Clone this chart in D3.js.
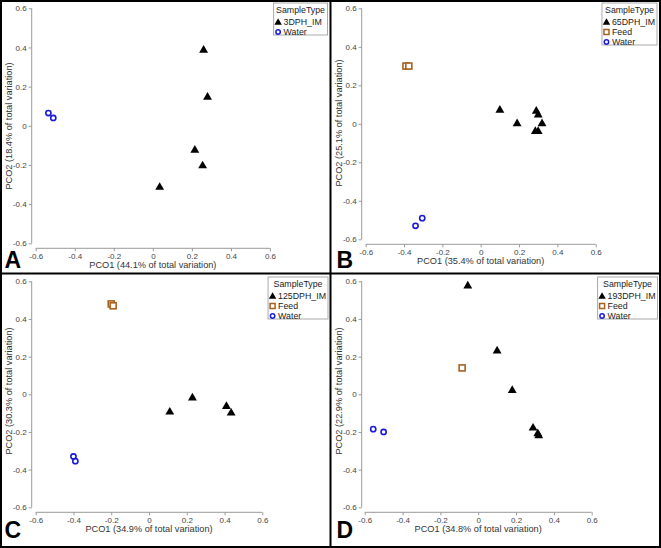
<!DOCTYPE html>
<html><head><meta charset="utf-8">
<script src="https://cdn.jsdelivr.net/npm/d3@7"></script>
<style>body{margin:0;background:#fff}svg{display:block}text{font-family:"Liberation Sans",Arial,sans-serif}</style>
</head><body>
<svg id="c" width="661" height="548"></svg>
<script>
const ticks = [-0.6,-0.4,-0.2,0,0.2,0.4,0.6];
const tickLabels = ["-0.6","-0.4","-0.2","0","0.2","0.4","0.6"];
const letters = ["A","B","C","D"];
const xTitles = ["PCO1 (44.1% of total variation)","PCO1 (35.4% of total variation)","PCO1 (34.9% of total variation)","PCO1 (34.8% of total variation)"];
const yTitles = ["PCO2 (18.4% of total variation)","PCO2 (25.1% of total variation)","PCO2 (30.3% of total variation)","PCO2 (22.9% of total variation)"];
const imNames = ["3DPH_IM","65DPH_IM","125DPH_IM","193DPH_IM"];

// panel A
const aIM = [[0.26,0.39],[0.28,0.15],[0.215,-0.12],[0.255,-0.20],[0.035,-0.31]];
const aFeed = [];
const aWater = [[-0.535,0.065],[-0.51,0.04]];
// panel B
const bIM = [[0.10,0.075],[0.19,0.005],[0.29,0.07],[0.30,0.05],[0.32,0.005],[0.285,-0.035],[0.30,-0.035]];
const bFeed = [[-0.39,0.30],[-0.375,0.30]];
const bWater = [[-0.305,-0.49],[-0.34,-0.53]];
// panel C
const cIM = [[0.11,-0.09],[0.23,-0.015],[0.41,-0.06],[0.435,-0.095]];
const cFeed = [[-0.20,0.48],[-0.19,0.47]];
const cWater = [[-0.40,-0.33],[-0.39,-0.355]];
// panel D
const dIM = [[-0.055,0.58],[0.10,0.235],[0.18,0.025],[0.29,-0.175],[0.315,-0.205],[0.32,-0.215]];
const dFeed = [[-0.085,0.14]];
const dWater = [[-0.555,-0.185],[-0.50,-0.20]];

const panelIM = [aIM,bIM,cIM,dIM];
const panelFeed = [aFeed,bFeed,cFeed,dFeed];
const panelWater = [aWater,bWater,cWater,dWater];

// layout (pixels)
const layout = [
  {ox:0,oy:0,xr:[35.7,270],yr:[243.3,8.3],ax:31.7,ay:248.3,xtY:268,ytY:126,right:327.5},
  {ox:330,oy:0,xr:[35.7,265.7],yr:[239.3,8.3],ax:31.7,ay:244.3,xtY:263.5,ytY:123,right:327},
  {ox:0,oy:274,xr:[35.7,262.3],yr:[233.3,7.3],ax:31.7,ay:238.3,xtY:258,ytY:117,right:328},
  {ox:330,oy:274,xr:[34.7,261.7],yr:[233.3,7.3],ax:31.7,ay:238.3,xtY:258,ytY:117,right:327.5}
];
const axisCol = "#9a9a9a", tickTxt = "#444";
const feedCol = "#a8601c", waterCol = "#1a1adb";

const svg = d3.select("#c");
const tri = d3.symbol().type(d3.symbolTriangle).size(34);

layout.forEach((L,i)=>{
  const g = svg.append("g").attr("transform",`translate(${L.ox},${L.oy})`);
  const x = d3.scaleLinear().domain([-0.6,0.6]).range(L.xr);
  const y = d3.scaleLinear().domain([-0.6,0.6]).range(L.yr);

  // y axis
  const ya = g.append("g").attr("transform",`translate(${L.ax},0)`)
    .call(d3.axisLeft(y).tickValues(ticks).tickFormat((d,k)=>tickLabels[k]).tickSize(3).tickPadding(2));
  ya.select(".domain").attr("stroke",axisCol).attr("d",`M0,${L.yr[1]}V${L.yr[0]}`);
  ya.selectAll(".tick line").attr("stroke",axisCol);
  ya.selectAll(".tick text").attr("fill",tickTxt).style("font-size","8px").style("font-family","'Liberation Sans',Arial,sans-serif");

  // x axis
  const xa = g.append("g").attr("transform",`translate(0,${L.ay})`)
    .call(d3.axisBottom(x).tickValues(ticks).tickFormat((d,k)=>tickLabels[k]).tickSize(3).tickPadding(2));
  xa.select(".domain").attr("stroke",axisCol).attr("d",`M${L.xr[0]},0H${L.xr[1]}`);
  xa.selectAll(".tick line").attr("stroke",axisCol);
  xa.selectAll(".tick text").attr("fill",tickTxt).style("font-size","8px").style("font-family","'Liberation Sans',Arial,sans-serif");

  // titles
  g.append("text").attr("x",x(0)).attr("y",L.xtY).attr("text-anchor","middle")
    .attr("fill","#333").style("font-size","9.2px").text(xTitles[i]);
  g.append("text").attr("transform",`translate(11.5,${L.ytY}) rotate(-90)`).attr("text-anchor","middle")
    .attr("fill","#333").style("font-size","9.2px").text(yTitles[i]);

  // letter
  g.append("text").attr("x",i%2?6.5:4.5).attr("y",i<2?267.5:263.5).style("font-size","23px").style("font-weight","bold")
    .attr("fill","#000").text(letters[i]);

  // points
  g.selectAll(".w").data(panelWater[i]).join("circle")
    .attr("cx",d=>x(d[0])).attr("cy",d=>y(d[1])).attr("r",2.6)
    .attr("fill","none").attr("stroke",waterCol).attr("stroke-width",1.6);
  g.selectAll(".f").data(panelFeed[i]).join("rect")
    .attr("x",d=>x(d[0])-3).attr("y",d=>y(d[1])-3).attr("width",6).attr("height",6)
    .attr("fill","#fff").attr("stroke",feedCol).attr("stroke-width",1.6);
  g.selectAll(".t").data(panelIM[i]).join("path")
    .attr("transform",d=>`translate(${x(d[0])},${y(d[1])+0.8})`).attr("d",tri).attr("fill","#000");

  // legend
  const items = [{n:imNames[i],t:"im"}];
  if (panelFeed[i].length) items.push({n:"Feed",t:"feed"});
  items.push({n:"Water",t:"water"});
  const fs = "8.8px";
  const lg = g.append("g");
  const box = lg.append("rect").attr("fill","#fff").attr("stroke","#aaa").attr("stroke-width",1);
  const head = lg.append("text").attr("y",10).attr("text-anchor","middle").style("font-size",fs).attr("fill","#222").text("SampleType");
  let maxW = head.node().getComputedTextLength() + 5;
  items.forEach((it,k)=>{
    const cy = 19 + k*10;
    if (it.t==="im") lg.append("path").attr("transform",`translate(4.5,${cy+0.5})`).attr("d",d3.symbol().type(d3.symbolTriangle).size(24)).attr("fill","#000");
    if (it.t==="feed") lg.append("rect").attr("x",2).attr("y",cy-2.5).attr("width",5).attr("height",5).attr("fill","#fff").attr("stroke",feedCol).attr("stroke-width",1.5);
    if (it.t==="water") lg.append("circle").attr("cx",4.5).attr("cy",cy).attr("r",2.2).attr("fill","none").attr("stroke",waterCol).attr("stroke-width",1.5);
    const t = lg.append("text").attr("x",10).attr("y",cy+3.2).style("font-size",fs).attr("fill","#222").text(it.n);
    maxW = Math.max(maxW, 10 + t.node().getComputedTextLength() + 2);
  });
  const lh = 10 + items.length*10 + 2;
  box.attr("width",maxW).attr("height",lh);
  head.attr("x",maxW/2);
  lg.attr("transform",`translate(${L.right - maxW},3)`);
});

// frame and dividers
svg.append("rect").attr("x",1).attr("y",1).attr("width",659).attr("height",546).attr("fill","none").attr("stroke","#000").attr("stroke-width",2);
svg.append("line").attr("x1",330.5).attr("x2",330.5).attr("y1",0).attr("y2",548).attr("stroke","#000").attr("stroke-width",2);
svg.append("line").attr("x1",0).attr("x2",661).attr("y1",273.5).attr("y2",273.5).attr("stroke","#000").attr("stroke-width",2);
</script>
</body></html>
